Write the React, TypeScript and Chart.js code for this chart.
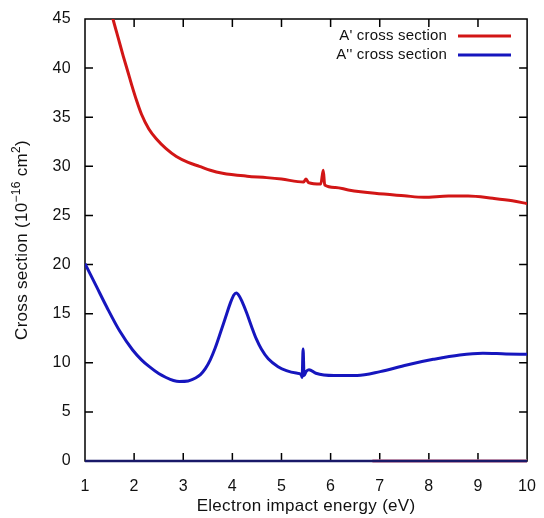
import React, { useEffect, useRef } from "react";
import { Chart, registerables } from "chart.js";

Chart.register(...registerables);

// ---- Data ----
const aPrimeEnergy = [1.52, 1.57, 1.68, 1.78, 1.88, 1.95, 2.05, 2.15, 2.3, 2.45, 2.65, 2.86, 3.1, 3.33, 3.55, 3.8, 4.3, 4.7, 5.0, 5.45, 5.5, 5.55, 5.8, 5.85, 5.88, 6.1, 6.36, 6.9, 7.5, 7.9, 8.4, 8.8, 9.3, 9.7, 10.0];
const aPrimeCross = [46.0, 45.0, 43.0, 41.2, 39.5, 38.3, 36.7, 35.3, 33.8, 32.8, 31.8, 31.0, 30.4, 30.0, 29.6, 29.3, 29.0, 28.85, 28.7, 28.4, 28.7, 28.35, 28.2, 29.6, 28.1, 27.85, 27.6, 27.25, 27.0, 26.85, 26.98, 26.98, 26.75, 26.5, 26.2];

const aDoublePrimeEnergy = [1.0, 1.12, 1.24, 1.44, 1.71, 1.97, 2.15, 2.31, 2.5, 2.65, 2.8, 2.92, 3.1, 3.25, 3.35, 3.45, 3.55, 3.65, 3.76, 3.86, 3.96, 4.03, 4.08, 4.14, 4.2, 4.29, 4.39, 4.49, 4.59, 4.73, 4.93, 5.1, 5.3, 5.4, 5.42, 5.44, 5.46, 5.5, 5.56, 5.7, 6.07, 6.54, 7.01, 7.55, 8.09, 8.63, 9.1, 9.57, 10.0];
const aDoublePrimeCross = [20.1, 18.9, 17.7, 15.7, 13.2, 11.3, 10.3, 9.6, 8.9, 8.5, 8.2, 8.1, 8.15, 8.45, 8.8, 9.4, 10.3, 11.5, 13.1, 14.6, 16.1, 16.9, 17.1, 16.8, 16.2, 15.1, 13.7, 12.4, 11.4, 10.4, 9.6, 9.2, 8.95, 8.8, 8.5, 11.4, 8.7, 9.1, 9.3, 8.93, 8.7, 8.7, 9.1, 9.78, 10.35, 10.8, 10.97, 10.9, 10.87];

const aPrimeBaseEnergy = [6.85, 10.0];
const aPrimeBaseCross = [0, 0];
const aDoublePrimeBaseEnergy = [1.0, 10.0];
const aDoublePrimeBaseCross = [0, 0];

const seriesLabels = ["A' cross section", "A'' cross section"];
const xTitle = "Electron impact energy (eV)";
// y title pieces: [text, isSuperscript]
const yTitleParts: [string, boolean][] = [
  ["Cross section (10", false],
  ["\u221216", true],
  [" cm", false],
  ["2", true],
  [")", false],
];

const RED = "rgb(210,22,22)";
const BLUE = "rgb(22,22,190)";
const FONT = "'Liberation Sans', Arial, Helvetica, sans-serif";
const SPACING = "0.3px";

const toPoints = (xs: number[], ys: number[]) => xs.map((x, i) => ({ x, y: ys[i] }));

const framePlugin = {
  id: "gnuFrame",
  beforeDraw(chart: any) {
    (chart.ctx as any).letterSpacing = SPACING;
  },
  beforeDatasetsDraw(chart: any) {
    const { ctx, chartArea, scales } = chart;
    const { left, right, top, bottom } = chartArea;
    ctx.save();
    ctx.strokeStyle = "#000";
    ctx.lineWidth = 1.5;
    ctx.strokeRect(left, top, right - left, bottom - top);
    const tl = 8;
    ctx.beginPath();
    scales.x.ticks.forEach((t: any) => {
      const px = scales.x.getPixelForValue(t.value);
      if (px <= left + 1 || px >= right - 1) return;
      ctx.moveTo(px, bottom);
      ctx.lineTo(px, bottom - tl);
      ctx.moveTo(px, top);
      ctx.lineTo(px, top + tl);
    });
    scales.y.ticks.forEach((t: any) => {
      const py = scales.y.getPixelForValue(t.value);
      if (py <= top + 1 || py >= bottom - 1) return;
      ctx.moveTo(left, py);
      ctx.lineTo(left + tl, py);
      ctx.moveTo(right, py);
      ctx.lineTo(right - tl, py);
    });
    ctx.stroke();
    ctx.restore();
  },
  afterDatasetsDraw(chart: any) {
    const { ctx, chartArea } = chart;
    ctx.save();
    (ctx as any).letterSpacing = "0.2px";
    ctx.font = `15px ${FONT}`;
    ctx.textAlign = "right";
    ctx.textBaseline = "middle";
    const colors = [RED, BLUE];
    const rows = [36, 55];
    seriesLabels.forEach((lab, i) => {
      ctx.fillStyle = "#111";
      ctx.fillText(lab, 447, rows[i]);
      ctx.strokeStyle = colors[i];
      ctx.lineWidth = 3;
      ctx.beginPath();
      ctx.moveTo(458, rows[i]);
      ctx.lineTo(511, rows[i]);
      ctx.stroke();
    });
    ctx.restore();

    // Y axis title with real superscripts
    ctx.save();
    (ctx as any).letterSpacing = SPACING;
    const mainFont = `17px ${FONT}`;
    const supFont = `12px ${FONT}`;
    let total = 0;
    yTitleParts.forEach(([t, sup]) => {
      ctx.font = sup ? supFont : mainFont;
      total += ctx.measureText(t).width;
    });
    const cy = (chartArea.top + chartArea.bottom) / 2;
    ctx.translate(27, cy);
    ctx.rotate(-Math.PI / 2);
    ctx.fillStyle = "#111";
    ctx.textAlign = "left";
    ctx.textBaseline = "alphabetic";
    let x = -total / 2;
    yTitleParts.forEach(([t, sup]) => {
      ctx.font = sup ? supFont : mainFont;
      ctx.fillText(t, x, sup ? -7 : 0);
      x += ctx.measureText(t).width;
    });
    ctx.restore();
  },
};

export default function App() {
  const ref = useRef<HTMLCanvasElement | null>(null);
  useEffect(() => {
    if (!ref.current) return;
    const chart = new Chart(ref.current, {
      type: "line",
      data: {
        datasets: [
          {
            label: "baseline A''",
            data: toPoints(aDoublePrimeBaseEnergy, aDoublePrimeBaseCross),
            borderColor: "rgb(25,25,105)",
            borderWidth: 2.5,
            pointRadius: 0,
            clip: 6,
          } as any,
          {
            label: "baseline A'",
            data: toPoints(aPrimeBaseEnergy, aPrimeBaseCross),
            borderColor: "rgba(225,140,160,0.7)",
            borderWidth: 4,
            pointRadius: 0,
            clip: 6,
          } as any,
          {
            label: seriesLabels[0],
            data: toPoints(aPrimeEnergy, aPrimeCross),
            borderColor: RED,
            borderWidth: 3,
            pointRadius: 0,
            cubicInterpolationMode: "monotone",
          },
          {
            label: seriesLabels[1],
            data: toPoints(aDoublePrimeEnergy, aDoublePrimeCross),
            borderColor: BLUE,
            borderWidth: 3,
            pointRadius: 0,
            cubicInterpolationMode: "monotone",
          },
        ],
      },
      options: {
        animation: false,
        responsive: false,
        layout: { padding: { left: 0, top: 19, right: 12, bottom: 0 } },
        plugins: { legend: { display: false }, tooltip: { enabled: false } },
        scales: {
          x: {
            type: "linear",
            min: 1,
            max: 10,
            grid: { display: false },
            border: { display: false },
            ticks: { stepSize: 1, padding: 8, color: "#111", font: { family: FONT, size: 16 } },
            title: { display: true, text: xTitle, color: "#111", font: { family: FONT, size: 17 }, padding: { top: 0, bottom: 1 } },
            afterFit: (s: any) => { s.height = 57; },
          },
          y: {
            type: "linear",
            min: 0,
            max: 45,
            grid: { display: false },
            border: { display: false },
            ticks: { stepSize: 5, padding: 6, color: "#111", font: { family: FONT, size: 16 } },
            title: { display: false },
            afterFit: (s: any) => { s.width = 85; },
          },
        },
      } as any,
      plugins: [framePlugin],
    });
    return () => chart.destroy();
  }, []);
  return (
    <div style={{ position: "absolute", left: 0, top: 0, width: 544, height: 518, background: "#fff" }}>
      <canvas ref={ref} width={544} height={518} style={{ display: "block" }} />
    </div>
  );
}
